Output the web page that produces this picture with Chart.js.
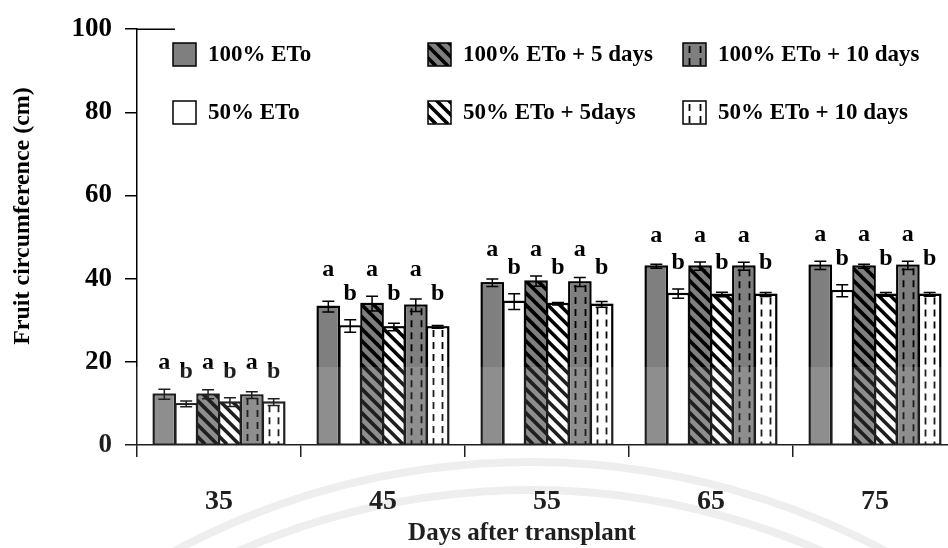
<!DOCTYPE html>
<html>
<head>
<meta charset="utf-8">
<script src="https://cdn.jsdelivr.net/npm/chart.js@4.4.1/dist/chart.umd.min.js"></script>
<style>
  html, body { margin: 0; padding: 0; background: #fff; overflow: hidden; width: 948px; height: 548px; }
  #wrap { position: absolute; left: 0; top: 0; width: 960px; height: 548px; }
</style>
</head>
<body>
<div id="wrap"><canvas id="c" width="960" height="548"></canvas></div>
<script>
// Days after transplant
const categories = ['35', '45', '55', '65', '75'];
const yTicks = [0, 20, 40, 60, 80, 100];

// Fruit circumference (cm), mean per treatment
const eto100     = [12.2, 33.3, 39.0, 43.0, 43.2];
const eto50      = [ 9.9, 28.6, 34.5, 36.4, 37.1];
const eto100d5   = [12.2, 34.0, 39.4, 43.0, 43.0];
const eto50d5    = [10.3, 28.4, 34.0, 36.2, 36.2];
const eto100d10  = [12.0, 33.6, 39.2, 43.0, 43.2];
const eto50d10   = [10.3, 28.4, 33.8, 36.2, 36.2];

// Standard errors
const err100     = [1.2, 1.3, 0.9, 0.5, 1.0];
const err50      = [0.7, 1.5, 1.9, 1.1, 1.45];
const err100d5   = [1.1, 1.8, 1.25, 1.0, 0.5];
const err50d5    = [1.05, 0.9, 0.3, 0.55, 0.45];
const err100d10  = [0.8, 1.5, 1.1, 0.95, 1.0];
const err50d10   = [0.8, 0.35, 0.7, 0.5, 0.45];

// Significance letters
const sig100 = ['a', 'a', 'a', 'a', 'a'];
const sig50  = ['b', 'b', 'b', 'b', 'b'];

const labels = ['100% ETo', '50% ETo', '100% ETo + 5 days', '50% ETo + 5days', '100% ETo + 10 days', '50% ETo + 10 days'];

const GREY = '#7f7f7f';
const SERIF = "'Liberation Serif', 'Times New Roman', serif";

function ds(label, data, err, sig, fill, hatch, row) {
  return {
    label, data,
    errors: err, letters: sig, hatch, row,
    backgroundColor: fill,
    borderColor: '#000',
    borderWidth: 1.5,
    categoryPercentage: 0.8,
    barPercentage: 1.0
  };
}

const datasets = [
  ds(labels[0], eto100,    err100,    sig100, GREY,   'none',   'a'),
  ds(labels[1], eto50,     err50,     sig50,  '#fff', 'none',   'b'),
  ds(labels[2], eto100d5,  err100d5,  sig100, GREY,   'stripe', 'a'),
  ds(labels[3], eto50d5,   err50d5,   sig50,  '#fff', 'stripe', 'b'),
  ds(labels[4], eto100d10, err100d10, sig100, GREY,   'dash',   'a'),
  ds(labels[5], eto50d10,  err50d10,  sig50,  '#fff', 'dash',   'b')
];

// Fill pattern drawn inside a rectangle
function drawHatch(ctx, kind, l, t, r, b) {
  if (kind === 'none') return;
  ctx.save();
  ctx.beginPath();
  ctx.rect(l, t, r - l, b - t);
  ctx.clip();
  ctx.strokeStyle = '#000';
  if (kind === 'stripe') {
    const h = b - t;
    ctx.lineWidth = 3.6;
    // diagonal bands running down to the right
    for (let x0 = l - 4; x0 < r + h + 12; x0 += 12) {
      ctx.beginPath();
      ctx.moveTo(x0, b);
      ctx.lineTo(x0 - h - 4, b - h - 4);
      ctx.stroke();
    }
  } else if (kind === 'dash') {
    const w = r - l;
    ctx.lineWidth = 1.8;
    ctx.setLineDash([7, 5]);
    [0.28, 0.72].forEach(f => {
      const x = Math.round(l + w * f) + 0.5;
      ctx.beginPath();
      ctx.moveTo(x, t + 3);
      ctx.lineTo(x, b);
      ctx.stroke();
    });
  }
  ctx.restore();
}

const barDecor = {
  id: 'barDecor',
  beforeDraw(chart) {
    // faint concentric arcs in the background
    const ctx = chart.ctx;
    ctx.save();
    ctx.strokeStyle = 'rgba(0,0,0,0.08)';
    ctx.lineWidth = 8;
    [755, 727].forEach(rad => {
      ctx.beginPath();
      ctx.arc(530, 1217, rad, Math.PI * 1.1, Math.PI * 1.9);
      ctx.stroke();
    });
    ctx.restore();
  },
  afterDatasetsDraw(chart) {
    const ctx = chart.ctx;
    const yS = chart.scales.y;
    // hatching and outline
    chart.data.datasets.forEach((d, di) => {
      const meta = chart.getDatasetMeta(di);
      meta.data.forEach(bar => {
        const p = bar.getProps(['x', 'y', 'base', 'width'], true);
        const l = p.x - p.width / 2, r = p.x + p.width / 2;
        drawHatch(ctx, d.hatch, l, p.y, r, p.base);
        ctx.save();
        ctx.strokeStyle = '#000';
        ctx.lineWidth = 1.5;
        ctx.strokeRect(l, p.y, r - l, p.base - p.y);
        ctx.restore();
      });
    });
    // error bars
    ctx.save();
    ctx.strokeStyle = '#000';
    ctx.lineWidth = 1.5;
    chart.data.datasets.forEach((d, di) => {
      const meta = chart.getDatasetMeta(di);
      meta.data.forEach((bar, i) => {
        const x = bar.x;
        const v = d.data[i], e = d.errors[i];
        const yt = yS.getPixelForValue(v + e), yb = yS.getPixelForValue(v - e);
        ctx.beginPath();
        ctx.moveTo(x, yt); ctx.lineTo(x, yb);
        ctx.moveTo(x - 6, yt); ctx.lineTo(x + 6, yt);
        ctx.moveTo(x - 6, yb); ctx.lineTo(x + 6, yb);
        ctx.stroke();
      });
    });
    ctx.restore();
    // significance letters, one common row per letter group in each category
    ctx.save();
    ctx.fillStyle = '#000';
    ctx.font = 'bold 24px ' + SERIF;
    ctx.textAlign = 'center';
    ctx.textBaseline = 'alphabetic';
    categories.forEach((c, i) => {
      ['a', 'b'].forEach(row => {
        let top = Infinity;
        chart.data.datasets.forEach(d => {
          if (d.row === row) top = Math.min(top, yS.getPixelForValue(d.data[i] + d.errors[i]));
        });
        chart.data.datasets.forEach((d, di) => {
          if (d.row !== row) return;
          const bar = chart.getDatasetMeta(di).data[i];
          ctx.fillText(d.letters[i], bar.x, top - 20);
        });
      });
    });
    ctx.restore();
  },
  afterDraw(chart) {
    const ctx = chart.ctx;
    const area = chart.chartArea;
    ctx.save();
    // top tick of the value axis
    ctx.strokeStyle = '#000';
    ctx.lineWidth = 1.5;
    ctx.beginPath();
    ctx.moveTo(area.left, area.top);
    ctx.lineTo(area.left + 38, area.top);
    ctx.stroke();

    // axis titles
    ctx.fillStyle = '#000';
    ctx.font = 'bold 25px ' + SERIF;
    ctx.textAlign = 'center';
    ctx.textBaseline = 'middle';
    ctx.fillText('Days after transplant', 522, 534);
    ctx.font = 'bold 24px ' + SERIF;
    ctx.save();
    ctx.translate(23, 216);
    ctx.rotate(-Math.PI / 2);
    ctx.fillText('Fruit circumference (cm)', 0, 0);
    ctx.restore();

    // light haze across the lower band
    ctx.fillStyle = 'rgba(255,255,255,0.12)';
    ctx.fillRect(0, 367, chart.width, chart.height - 367);

    // legend: two rows by three columns
    const cols = [173, 428, 683];
    const rows = [43, 101];
    const order = [[0, 2, 4], [1, 3, 5]];
    ctx.font = 'bold 23px ' + SERIF;
    ctx.textAlign = 'left';
    ctx.textBaseline = 'middle';
    order.forEach((line, ri) => {
      line.forEach((di, ci) => {
        const d = chart.data.datasets[di];
        const x = cols[ci], y = rows[ri], s = 23;
        ctx.fillStyle = d.backgroundColor;
        ctx.fillRect(x, y, s, s);
        drawHatch(ctx, d.hatch, x, y, x + s, y + s);
        ctx.strokeStyle = '#000';
        ctx.lineWidth = 1.5;
        ctx.strokeRect(x, y, s, s);
        ctx.fillStyle = '#000';
        ctx.fillText(d.label, x + 35, y + s / 2 + 1);
      });
    });
    ctx.restore();
  }
};

new Chart(document.getElementById('c'), {
  type: 'bar',
  data: { labels: categories, datasets },
  options: {
    responsive: false,
    animation: false,
    layout: { padding: { top: 19, right: 3, left: 0, bottom: 0 } },
    plugins: { legend: { display: false }, tooltip: { enabled: false } },
    scales: {
      x: {
        offset: true,
        grid: { display: true, offset: true, drawOnChartArea: false, drawTicks: true, tickLength: 12, color: '#000', lineWidth: 1.5 },
        border: { display: true, color: '#000', width: 1.5 },
        ticks: { color: '#000', font: { family: SERIF, size: 28, weight: 'bold' }, padding: 28, maxRotation: 0 },
        afterFit(scale) { scale.height = 103; }
      },
      y: {
        min: yTicks[0],
        max: yTicks[yTicks.length - 1],
        afterBuildTicks(scale) { scale.ticks = yTicks.map(v => ({ value: v })); },
        grid: { display: true, drawOnChartArea: false, drawTicks: true, tickLength: 12, color: '#000', lineWidth: 1.5 },
        border: { display: true, color: '#000', width: 1.5 },
        ticks: { color: '#000', font: { family: SERIF, size: 27, weight: 'bold' }, padding: 13 },
        afterFit(scale) { scale.width = 137; }
      }
    }
  },
  plugins: [barDecor]
});
</script>
</body>
</html>
